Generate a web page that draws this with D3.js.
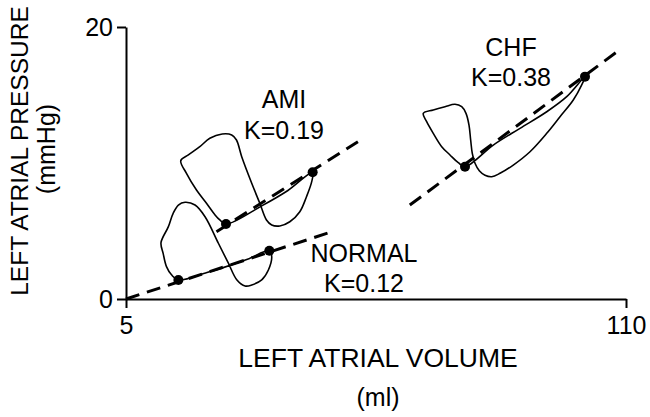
<!DOCTYPE html>
<html>
<head>
<meta charset="utf-8">
<script src="https://cdn.jsdelivr.net/npm/d3@7"></script>
<style>
  html, body { margin: 0; padding: 0; background: #fff; }
  svg text { font-family: "Liberation Sans", Arial, Helvetica, sans-serif; fill: #000; }
</style>
</head>
<body>
<svg id="chart" width="650" height="417"></svg>
<script>
// ---------------- DATA ----------------
const volumeTicks = [5, 110];      // ml
const pressureTicks = [0, 20];     // mmHg
const groups = ["NORMAL", "AMI", "CHF"];
const kValues = [0.12, 0.19, 0.38];

// Pressure-volume loops (volume ml, pressure mmHg), traced in order
const normalLoopV = [16.0, 22.0, 25.1, 30.5, 35.1, 35.6, 34.9, 33.5, 31.4, 30.0, 28.3, 26.5, 24.4, 21.6, 19.5, 17.4, 16.0, 14.9, 13.9, 12.35, 12.8, 13.5, 14.6];
const normalLoopP = [1.40, 1.95, 2.27, 2.92, 3.55, 3.11, 2.13, 1.40, 1.03, 0.96, 1.40, 2.63, 4.10, 6.05, 6.91, 7.11, 6.91, 6.30, 5.32, 4.14, 3.36, 2.38, 1.76];

const amiLoopV = [26.0, 33.5, 39.0, 44.2, 44.0, 42.9, 41.5, 39.4, 37.3, 35.6, 34.5, 33.1, 31.4, 29.3, 28.2, 27.2, 25.2, 22.6, 20.5, 18.1, 16.5, 17.7, 19.8, 21.9, 23.7, 24.7];
const amiLoopP = [5.51, 6.85, 7.98, 9.32, 8.63, 7.52, 6.42, 5.68, 5.37, 5.44, 5.81, 7.04, 8.51, 10.46, 11.69, 12.06, 12.13, 11.82, 11.20, 10.59, 10.17, 9.24, 8.01, 7.04, 6.18, 5.81];

const chfLoopV = [76.19, 82.13, 87.74, 93.35, 97.55, 101.39, 100.7, 98.93, 96.14, 93.35, 89.84, 86.33, 83.54, 81.8, 80.39, 79.19, 78.29, 77.72, 77.38, 77.03, 76.4, 75.5, 74.09, 71.99, 69.53, 67.43, 68.14, 69.53, 71.3, 73.04, 74.78];
const chfLoopP = [9.73, 11.32, 12.55, 13.77, 14.88, 16.35, 15.74, 14.63, 13.40, 12.18, 10.83, 9.85, 9.24, 8.99, 9.10, 9.43, 9.98, 10.71, 11.69, 12.79, 13.65, 14.14, 14.32, 14.14, 13.90, 13.65, 13.04, 12.18, 11.20, 10.59, 10.02];

// End-points of the stiffness (K) fits, one pair per group
const fitStartV = [5.0, 24.0, 64.6];
const fitStartP = [0.0, 4.95, 6.91];
const fitEndV = [47.8, 53.7, 109.1];
const fitEndP = [4.9, 11.57, 18.43];

// Marked points (minimum and maximum of each loop's passive limb)
const dotV = [16.0, 35.1, 26.0, 44.2, 76.19, 101.39];
const dotP = [1.40, 3.55, 5.51, 9.32, 9.73, 16.35];

// ---------------- LAYOUT ----------------
const svg = d3.select("#chart");
const x = d3.scaleLinear().domain([5, 110]).range([126, 626]);
const y = d3.scaleLinear().domain([0, 20]).range([299, 27]);
const fontSize = 25;

// label anchor positions (pixels) for each group's name and K value
const labelPos = [
  { cx: 364, y1: 262, y2: 292 },
  { cx: 284, y1: 108, y2: 139 },
  { cx: 511, y1: 56, y2: 86 }
];

// ---------------- AXES ----------------
const xAxis = d3.axisBottom(x).tickValues(volumeTicks).tickSize(9).tickSizeOuter(0).tickPadding(8).tickFormat(d3.format("d"));
const yAxis = d3.axisLeft(y).tickValues(pressureTicks).tickSize(9).tickSizeOuter(0).tickPadding(4).tickFormat(d3.format("d"));

const gx = svg.append("g").attr("transform", `translate(0,${y(0)})`).call(xAxis);
const gy = svg.append("g").attr("transform", `translate(${x(5)},0)`).call(yAxis);
[gx, gy].forEach(g => {
  g.selectAll("path, line").attr("stroke", "#000").attr("stroke-width", 2);
  g.selectAll("text").style("font-size", fontSize + "px").attr("fill", "#000");
});

// ---------------- FIT LINES ----------------
groups.forEach((gname, i) => {
  svg.append("line")
    .attr("x1", x(fitStartV[i])).attr("y1", y(fitStartP[i]))
    .attr("x2", x(fitEndV[i])).attr("y2", y(fitEndP[i]))
    .attr("stroke", "#000").attr("stroke-width", 3)
    .attr("stroke-dasharray", "14,8");
});

// ---------------- LOOPS ----------------
const loops = [
  normalLoopV.map((v, j) => [v, normalLoopP[j]]),
  amiLoopV.map((v, j) => [v, amiLoopP[j]]),
  chfLoopV.map((v, j) => [v, chfLoopP[j]])
];
const loopLine = d3.line()
  .x(d => x(d[0])).y(d => y(d[1]))
  .curve(d3.curveCatmullRomClosed.alpha(0.5));
loops.forEach(pts => {
  svg.append("path").attr("d", loopLine(pts))
    .attr("fill", "none").attr("stroke", "#000").attr("stroke-width", 1.6)
    .attr("stroke-linejoin", "round");
});

// ---------------- DOTS ----------------
svg.selectAll("circle.dot").data(dotV.map((v, j) => [v, dotP[j]]))
  .enter().append("circle").attr("class", "dot")
  .attr("cx", d => x(d[0])).attr("cy", d => y(d[1])).attr("r", 5)
  .attr("fill", "#000");

// ---------------- GROUP LABELS ----------------
groups.forEach((gname, i) => {
  const p = labelPos[i];
  svg.append("text").attr("x", p.cx).attr("y", p.y1).attr("text-anchor", "middle")
    .style("font-size", fontSize + "px").text(gname);
  svg.append("text").attr("x", p.cx).attr("y", p.y2).attr("text-anchor", "middle")
    .style("font-size", fontSize + "px").text("K=" + kValues[i].toFixed(2));
});

// ---------------- AXIS TITLES ----------------
svg.append("text").attr("x", 378).attr("y", 367).attr("text-anchor", "middle")
  .style("font-size", "26.5px").text("LEFT ATRIAL VOLUME");
svg.append("text").attr("x", 378).attr("y", 406).attr("text-anchor", "middle")
  .style("font-size", fontSize + "px").text("(ml)");
svg.append("text").attr("transform", "translate(28,151) rotate(-90)").attr("text-anchor", "middle")
  .style("font-size", "24.5px").text("LEFT ATRIAL PRESSURE");
svg.append("text").attr("transform", "translate(55,149) rotate(-90)").attr("text-anchor", "middle")
  .style("font-size", fontSize + "px").text("(mmHg)");
</script>
</body>
</html>
